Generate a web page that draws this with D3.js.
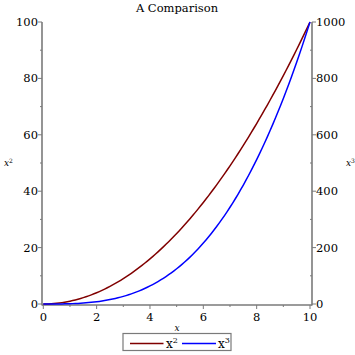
<!DOCTYPE html>
<html><head><meta charset="utf-8">
<script src="https://cdn.jsdelivr.net/npm/d3@7"></script>
<style>
html,body{margin:0;padding:0;background:#fff;}
text{font-family:"DejaVu Serif",serif;}
</style></head>
<body>
<svg id="c" width="355" height="355"></svg>
<script>
const title = "A Comparison";
const xTicks = [0,2,4,6,8,10];
const yLeftTicks = [0,20,40,60,80,100];
const yRightTicks = [0,200,400,600,800,1000];
const xs = d3.range(0, 10.0001, 0.1);
const sq = xs.map(v => v*v);
const cube = xs.map(v => v*v*v);
const seriesNames = ["x", "x"];
const seriesSup = ["2", "3"];
const colors = ["#800000", "#0000ff"];

const svg = d3.select("#c");
const x = d3.scaleLinear().domain([0,10]).range([43.3,310]);
const yL = d3.scaleLinear().domain([0,100]).range([304,22]);
const yR = d3.scaleLinear().domain([0,1000]).range([304,22]);
const axisColor = "#7a7a7a";
const leftX = 42, rightX = 312, bottomY = 305;

// axis lines
svg.append("line").attr("x1",leftX).attr("x2",leftX).attr("y1",22).attr("y2",bottomY+0.5).attr("stroke",axisColor).attr("stroke-width",1.6);
svg.append("line").attr("x1",rightX).attr("x2",rightX).attr("y1",22).attr("y2",bottomY+0.5).attr("stroke",axisColor).attr("stroke-width",1.6);
svg.append("line").attr("x1",leftX).attr("x2",rightX).attr("y1",bottomY).attr("y2",bottomY).attr("stroke",axisColor).attr("stroke-width",1.6);

const fs = 11.5;
// x ticks
const gx = svg.append("g");
xTicks.forEach(t => {
  gx.append("line").attr("x1",x(t)).attr("x2",x(t)).attr("y1",bottomY).attr("y2",bottomY+4).attr("stroke",axisColor).attr("stroke-width",1);
  gx.append("text").attr("x",x(t)).attr("y",bottomY+16).attr("text-anchor","middle").attr("font-size",fs).text(t);
});
d3.range(1,10,2).forEach(t => {
  gx.append("line").attr("x1",x(t)).attr("x2",x(t)).attr("y1",bottomY).attr("y2",bottomY+2).attr("stroke",axisColor).attr("stroke-width",1);
});
// left ticks
yLeftTicks.forEach(t => {
  svg.append("line").attr("x1",leftX-4).attr("x2",leftX).attr("y1",yL(t)).attr("y2",yL(t)).attr("stroke",axisColor).attr("stroke-width",1);
  svg.append("text").attr("x",leftX-4).attr("y",yL(t)+4).attr("text-anchor","end").attr("font-size",fs).text(t);
});
d3.range(10,100,20).forEach(t => {
  svg.append("line").attr("x1",leftX-2).attr("x2",leftX).attr("y1",yL(t)).attr("y2",yL(t)).attr("stroke",axisColor).attr("stroke-width",1);
});
// right ticks
yRightTicks.forEach(t => {
  svg.append("line").attr("x1",rightX).attr("x2",rightX+4).attr("y1",yR(t)).attr("y2",yR(t)).attr("stroke",axisColor).attr("stroke-width",1);
  svg.append("text").attr("x",rightX+4).attr("y",yR(t)+4).attr("text-anchor","start").attr("font-size",fs).text(t);
});
d3.range(100,1000,200).forEach(t => {
  svg.append("line").attr("x1",rightX-2).attr("x2",rightX).attr("y1",yR(t)).attr("y2",yR(t)).attr("stroke",axisColor).attr("stroke-width",1);
});

// curves
const lineL = d3.line().x((d,i)=>x(xs[i])).y(d=>yL(d));
const lineR = d3.line().x((d,i)=>x(xs[i])).y(d=>yR(d));
svg.append("path").attr("d",lineL(sq)).attr("fill","none").attr("stroke",colors[0]).attr("stroke-width",1.5);
svg.append("path").attr("d",lineR(cube)).attr("fill","none").attr("stroke",colors[1]).attr("stroke-width",1.5);

// title
svg.append("text").attr("x",177).attr("y",12).attr("text-anchor","middle").attr("font-size",11.5).text(title);
// axis labels
svg.append("text").attr("x",177).attr("y",331).attr("text-anchor","middle").attr("font-size",9).attr("font-style","italic").text("x");
const yl = svg.append("text").attr("x",4).attr("y",166).attr("font-size",9).attr("font-style","italic");
yl.append("tspan").text("x"); yl.append("tspan").attr("dy",-3).attr("font-size",6).attr("font-style","normal").text("2");
const yr = svg.append("text").attr("x",346).attr("y",166).attr("font-size",9).attr("font-style","italic");
yr.append("tspan").text("x"); yr.append("tspan").attr("dy",-3).attr("font-size",6).attr("font-style","normal").text("3");

// legend
svg.append("rect").attr("x",123).attr("y",333.5).attr("width",108).attr("height",17).attr("fill","none").attr("stroke",axisColor).attr("stroke-width",1.2);
const legItems = [{x1:130,x2:163.5,tx:166},{x1:182,x2:216,tx:218}];
legItems.forEach((it,i) => {
  svg.append("line").attr("x1",it.x1).attr("x2",it.x2).attr("y1",343.5).attr("y2",343.5).attr("stroke",colors[i]).attr("stroke-width",1.5);
  const t = svg.append("text").attr("x",it.tx).attr("y",348).attr("font-size",12);
  t.append("tspan").text(seriesNames[i]);
  t.append("tspan").attr("dy",-5).attr("font-size",8).text(seriesSup[i]);
});
</script>
</body></html>
